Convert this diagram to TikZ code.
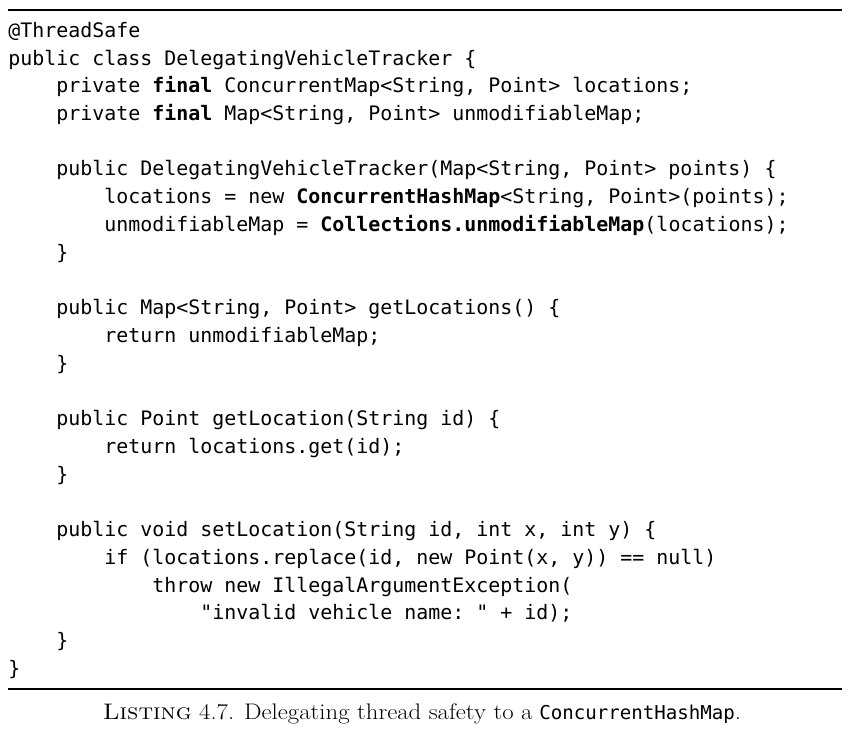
\documentclass[tikz,border=0pt]{standalone}
\usepackage{fontspec}
\setmonofont{DejaVu Sans Mono}
\usepackage{tikz}
\usetikzlibrary{positioning}

% character advance and line pitch of the listing, in px
\newcommand{\chw}{12.0}
\newcommand{\lnh}{27.74}

\begin{document}
\begin{tikzpicture}[x=0.025cm, y=-0.025cm,
    code/.style={anchor=base west, inner sep=0pt, font=\fontsize{14.18}{17}\selectfont\ttfamily},
    rule/.style={line width=1.4pt}]
    \useasboundingbox (0,0) rectangle (851,729);

    \draw[rule] (8,10) coordinate (tl) -- (842,10) coordinate (tr);

    % code lines: (indent, line number)
    \node[code] (anno)    at ({8+0*\chw},  {37.3+0*\lnh})  {@ThreadSafe};
    \node[code] (cls)     at ({8+0*\chw},  {37.3+1*\lnh})  {public class DelegatingVehicleTracker \{};
    \node[code] (fldA)    at ({8+4*\chw},  {37.3+2*\lnh})  {private \textbf{final} ConcurrentMap<String, Point> locations;};
    \node[code] (fldB)    at ({8+4*\chw},  {37.3+3*\lnh})  {private \textbf{final} Map<String, Point> unmodifiableMap;};

    \node[code] (ctor)    at ({8+4*\chw},  {37.3+5*\lnh})  {public DelegatingVehicleTracker(Map<String, Point> points) \{};
    \node[code] (ctorA)   at ({8+8*\chw},  {37.3+6*\lnh})  {locations = new \textbf{ConcurrentHashMap}<String, Point>(points);};
    \node[code] (ctorB)   at ({8+8*\chw},  {37.3+7*\lnh})  {unmodifiableMap = \textbf{Collections.unmodifiableMap}(locations);};
    \node[code] (ctorEnd) at ({8+4*\chw},  {37.3+8*\lnh})  {\}};

    \node[code] (getAll)  at ({8+4*\chw},  {37.3+10*\lnh}) {public Map<String, Point> getLocations() \{};
    \node[code] (getAllR) at ({8+8*\chw},  {37.3+11*\lnh}) {return unmodifiableMap;};
    \node[code] (getAllE) at ({8+4*\chw},  {37.3+12*\lnh}) {\}};

    \node[code] (getOne)  at ({8+4*\chw},  {37.3+14*\lnh}) {public Point getLocation(String id) \{};
    \node[code] (getOneR) at ({8+8*\chw},  {37.3+15*\lnh}) {return locations.get(id);};
    \node[code] (getOneE) at ({8+4*\chw},  {37.3+16*\lnh}) {\}};

    \node[code] (set)     at ({8+4*\chw},  {37.3+18*\lnh}) {public void setLocation(String id, int x, int y) \{};
    \node[code] (setIf)   at ({8+8*\chw},  {37.3+19*\lnh}) {if (locations.replace(id, new Point(x, y)) == null)};
    \node[code] (setThr)  at ({8+12*\chw}, {37.3+20*\lnh}) {throw new IllegalArgumentException(};
    \node[code] (setMsg)  at ({8+16*\chw}, {37.3+21*\lnh}) {"invalid vehicle name: " + id);};
    \node[code] (setEnd)  at ({8+4*\chw},  {37.3+22*\lnh}) {\}};
    \node[code] (clsEnd)  at ({8+0*\chw},  {37.3+23*\lnh}) {\}};

    \draw[rule] (8,689) coordinate (bl) -- (842,689) coordinate (br);

    % caption
    \node[anchor=base, inner sep=0pt, font=\fontsize{16}{19}\selectfont] (cap) at (422,719)
        {\scalebox{1.1}[1]{\textsc{Listing} \oldstylenums{4.7}. Delegating thread safety to a}\hspace{0.3em}{\fontsize{13.6}{17}\selectfont\ttfamily ConcurrentHashMap}\scalebox{1.1}[1]{.}};
\end{tikzpicture}
\end{document}
